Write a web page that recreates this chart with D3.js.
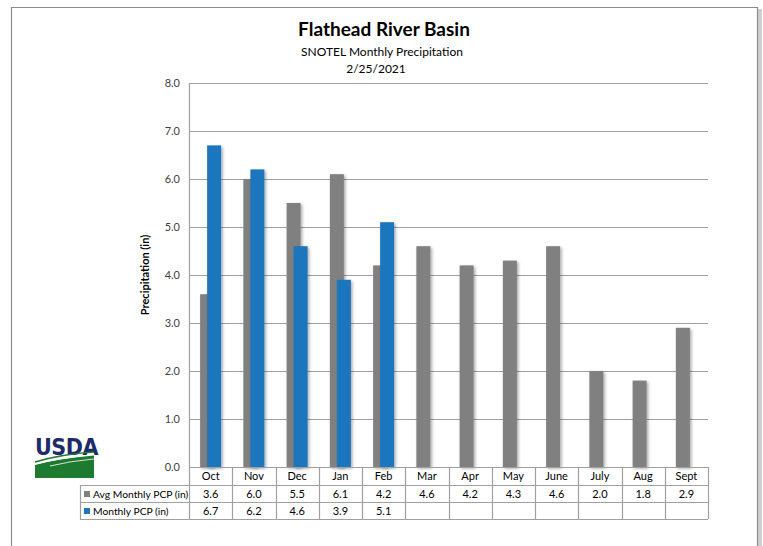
<!DOCTYPE html>
<html><head><meta charset="utf-8">
<script src="https://cdn.jsdelivr.net/npm/d3@7"></script>
<style>
body{margin:0;background:#fff;}
svg{display:block;font-family:Lato,"Open Sans",sans-serif;}
</style></head>
<body>
<svg id="c" width="763" height="546"></svg>
<script>
const categories = ["Oct","Nov","Dec","Jan","Feb","Mar","Apr","May","June","July","Aug","Sept"];
const avgValues = [3.6,6.0,5.5,6.1,4.2,4.6,4.2,4.3,4.6,2.0,1.8,2.9];
const monthlyValues = [6.7,6.2,4.6,3.9,5.1,null,null,null,null,null,null,null];
const seriesNames = ["Avg Monthly PCP (in)","Monthly PCP (in)"];
const yTicks = [0,1,2,3,4,5,6,7,8];

const svg = d3.select("#c");
const colors = ["#808080","#1f76bd"];
const L = 189, R = 708, T = 83, B = 467;

// frame
svg.append("rect").attr("x",757).attr("y",9).attr("width",5).attr("height",537).attr("fill","#d0d0d0");
svg.append("path").attr("d","M11.5,546 V7.5 H757.5 V546").attr("fill","none").attr("stroke","#8c8c8c").attr("stroke-width",1.2);

// shadow filter
const defs = svg.append("defs");
const f = defs.append("filter").attr("id","sh").attr("x","-30%").attr("y","-5%").attr("width","170%").attr("height","115%");
f.append("feDropShadow").attr("dx",1.5).attr("dy",1.5).attr("stdDeviation",1.5).attr("flood-color","#000").attr("flood-opacity",0.35);

// titles
svg.append("text").attr("x",384).attr("y",36).attr("text-anchor","middle").attr("font-size",19).attr("font-weight","bold").attr("fill","#000").text("Flathead River Basin");
svg.append("text").attr("x",382).attr("y",56).attr("text-anchor","middle").attr("font-size",12).attr("fill","#000").text("SNOTEL Monthly Precipitation");
svg.append("text").attr("x",376).attr("y",73).attr("text-anchor","middle").attr("font-size",12).attr("fill","#000").text("2/25/2021");

const y = d3.scaleLinear().domain([0,8]).range([B,T]);
const x = d3.scaleBand().domain(categories).range([L,R]).paddingInner(0).paddingOuter(0);
const cw = x.bandwidth();
const bw = 14, off = 7;
const gapSide = (cw - (bw+off))/2;

// gridlines
svg.append("g").selectAll("line").data(yTicks.filter(d=>d>0)).join("line")
  .attr("x1",L).attr("x2",R).attr("y1",d=>Math.round(y(d))+0.5).attr("y2",d=>Math.round(y(d))+0.5)
  .attr("stroke","#a0a0a0").attr("stroke-width",1.2);
// y axis line
svg.append("line").attr("x1",L+0.5).attr("x2",L+0.5).attr("y1",T).attr("y2",B).attr("stroke","#a0a0a0").attr("stroke-width",1.2);

// y tick labels via axis
const yAxis = d3.axisLeft(y).tickValues(yTicks).tickFormat(d3.format(".1f")).tickSize(0).tickPadding(9);
const ga = svg.append("g").attr("transform",`translate(${L},0)`).call(yAxis);
ga.select(".domain").remove();
ga.selectAll("text").attr("font-size",11).attr("fill","#404040").attr("font-family","Lato,'Open Sans',sans-serif");

// y title
svg.append("text").attr("transform",`translate(149,275) rotate(-90)`).attr("text-anchor","middle")
  .attr("font-size",11).attr("font-weight","bold").attr("fill","#000").text("Precipitation (in)");

// bars
const gb = svg.append("g");
gb.selectAll("rect.avg").data(avgValues).join("rect").attr("class","avg")
  .attr("x",(d,i)=>x(categories[i])+gapSide).attr("width",bw)
  .attr("y",d=>y(d)).attr("height",d=>B-y(d)).attr("fill",colors[0]).attr("filter","url(#sh)");
gb.selectAll("rect.mon").data(monthlyValues.map((v,i)=>({v,i})).filter(d=>d.v!=null)).join("rect").attr("class","mon")
  .attr("x",d=>x(categories[d.i])+gapSide+off).attr("width",bw)
  .attr("y",d=>y(d.v)).attr("height",d=>B-y(d.v)).attr("fill",colors[1]).attr("filter","url(#sh)");

// data table
const rowH = [467,485,502,519];
const tLeft = 80;
const tg = svg.append("g").attr("stroke","#a0a0a0").attr("stroke-width",1.2).attr("fill","none");
tg.append("line").attr("x1",L).attr("x2",R).attr("y1",rowH[0]+0.5).attr("y2",rowH[0]+0.5);
for (let k=1;k<4;k++) tg.append("line").attr("x1",tLeft).attr("x2",R).attr("y1",rowH[k]+0.5).attr("y2",rowH[k]+0.5);
tg.append("line").attr("x1",tLeft+0.5).attr("x2",tLeft+0.5).attr("y1",rowH[1]).attr("y2",rowH[3]);
categories.forEach(c=>{
  tg.append("line").attr("x1",Math.round(x(c))+0.5).attr("x2",Math.round(x(c))+0.5).attr("y1",rowH[0]).attr("y2",rowH[3]);
});
tg.append("line").attr("x1",R+0.5).attr("x2",R+0.5).attr("y1",rowH[0]).attr("y2",rowH[3]);

const tt = svg.append("g").attr("font-size",11).attr("fill","#000").attr("text-anchor","middle");
categories.forEach((c,i)=>{
  const cx = x(c)+cw/2;
  tt.append("text").attr("x",cx).attr("y",480).text(c);
  tt.append("text").attr("x",cx).attr("y",498).text(d3.format(".1f")(avgValues[i]));
  if (monthlyValues[i]!=null) tt.append("text").attr("x",cx).attr("y",515).text(d3.format(".1f")(monthlyValues[i]));
});
// legend keys in table
[0,1].forEach(k=>{
  const yy = k===0?498:515;
  svg.append("rect").attr("x",84).attr("y",yy-7).attr("width",6).attr("height",6).attr("fill",colors[k]);
  svg.append("text").attr("x",93).attr("y",yy).attr("font-size",10.3).attr("fill","#000").text(seriesNames[k]);
});

// USDA logo
const lg = svg.append("g");
lg.append("text").attr("x",35).attr("y",455).attr("font-size",23).attr("font-weight","bold")
  .attr("font-family","'Liberation Sans Narrow','DejaVu Sans Condensed',sans-serif").attr("fill","#1d2a6b").attr("letter-spacing",-0.5).text("USDA");
lg.append("path").attr("d","M35,465 Q60,458 94,455 L94,478 L35,478 Z").attr("fill","#1e7a2f");
lg.append("path").attr("d","M35,462 Q62,454 94,452").attr("fill","none").attr("stroke","#1e7a2f").attr("stroke-width",1.5);
lg.append("path").attr("d","M35,464 Q60,458 94,455").attr("fill","none").attr("stroke","#fff").attr("stroke-width",1);
lg.append("path").attr("d","M50,466 Q70,461 94,459").attr("fill","none").attr("stroke","#fff").attr("stroke-width",0.8);
</script>
</body></html>
